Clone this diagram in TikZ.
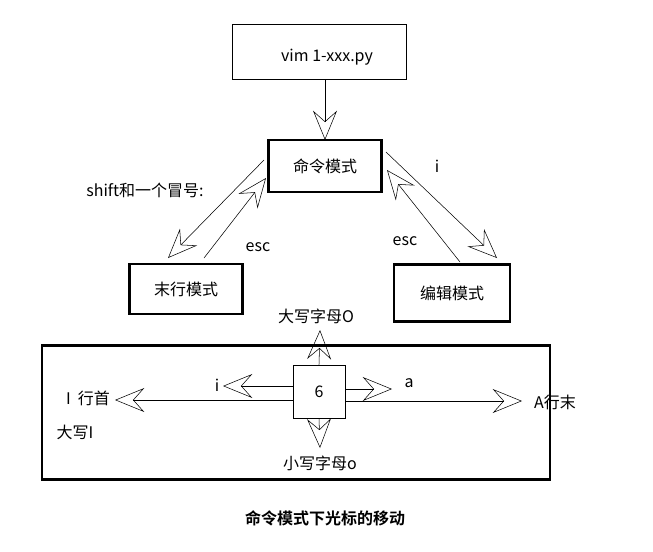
\documentclass[tikz,border=0pt]{standalone}
\usepackage{fontspec}
\setmainfont{Noto Sans CJK SC}
\newfontfamily\cjkb{Noto Sans CJK SC Bold}
\usetikzlibrary{arrows.meta}
\begin{document}
\begin{tikzpicture}[x=0.75pt,y=-0.75pt,
  thinbox/.style={draw,line width=0.5pt,inner sep=0pt},
  thickbox/.style={draw,line width=2.2pt,inner sep=0pt},
  arr/.style={line width=0.4pt,-{Stealth[open,length=22pt,width=18pt,inset=8pt,line width=0.4pt]}},
  lbl/.style={font=\fontsize{12}{14}\selectfont,inner sep=1pt}]
\useasboundingbox (0,0) rectangle (653,551);
\node[thinbox,minimum width=130.5pt,minimum height=41pt] (vim) at (319,52) {};
\node[lbl] (vimt) at (327,57) {vim 1-xxx.py};
\node[thickbox,minimum width=85pt,minimum height=39pt,font=\fontsize{12}{14}\selectfont] (cmd) at (325,166) {命令模式};
\node[thickbox,minimum width=85pt,minimum height=37.5pt,font=\fontsize{12}{14}\selectfont] (last) at (186,289) {末行模式};
\node[thickbox,minimum width=87pt,minimum height=42.5pt,font=\fontsize{12}{14}\selectfont] (edit) at (452,293) {编辑模式};
\coordinate (v0) at (325,80); \coordinate (v1) at (325,140);
\draw[arr] (v0) -- (v1);
\coordinate (c1) at (264,160); \coordinate (l1) at (168,258);
\coordinate (l2) at (204,258); \coordinate (c2) at (266,178);
\coordinate (c3) at (386,152); \coordinate (e1) at (497,258);
\coordinate (e2) at (460,262); \coordinate (c4) at (387,170);
\draw[arr] (c1) -- (l1);
\draw[arr] (l2) -- (c2);
\draw[arr] (c3) -- (e1);
\draw[arr] (e2) -- (c4);
\node[lbl] (shift) at (145,190) {shift和一个冒号:};
\node[lbl] (esc1) at (258,247) {esc};
\node[lbl] (i1) at (437,166) {i};
\node[lbl] (esc2) at (405,241) {esc};
\node[thickbox,minimum width=381pt,minimum height=101pt] (big) at (296,412.5) {};
\node[thinbox,minimum width=39pt,minimum height=40pt,font=\fontsize{12}{14}\selectfont] (six) at (319,391.5) {6};
\node[lbl] (O) at (316,316) {大写字母O};
\node[lbl] (o) at (320,463) {小写字母o};
\node[lbl] (i2) at (217,385) {i};
\node[lbl] (I) at (88,398) {I\ \ 行首};
\node[lbl] (I2) at (75,432) {大写I};
\node[lbl] (a) at (409,383) {a};
\node[lbl] (A) at (555,402) {A行末};
\coordinate (up) at (320,330); \coordinate (dn) at (320,448);
\coordinate (il) at (223,386); \coordinate (Il) at (115,400);
\coordinate (ar) at (392,389); \coordinate (Ar) at (522,401);
\draw[arr] (six.north) -- (up);
\draw[arr] (six.south) -- (dn);
\draw[arr] (six.west|-il) -- (il);
\draw[arr] (six.west|-Il) -- (Il);
\draw[arr] (six.east|-ar) -- (ar);
\draw[arr] (six.east|-Ar) -- (Ar);
\node[font=\cjkb\fontsize{12}{14}\selectfont] (cap) at (325,518) {命令模式下光标的移动};
\end{tikzpicture}
\end{document}
